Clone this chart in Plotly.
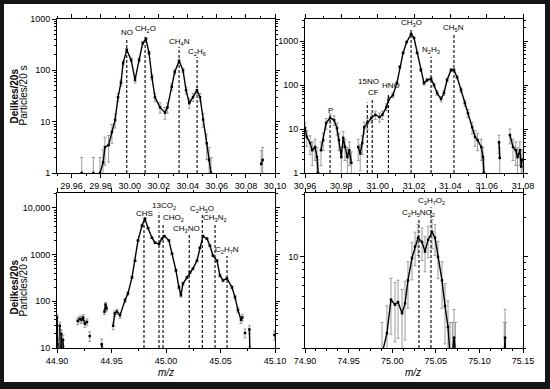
import math
import plotly.graph_objects as go

# ---------------- data (m/z, particles per 20 s) ----------------
# None breaks the trace (gaps in the measured spectrum)
tl_mz = [29.9670, None, 29.9750, None, 29.9796, 29.9817, 29.9830, 29.9855, 29.9878, 29.9900,
         29.9920, 29.9940, 29.9955, 29.9980, 30.0010, 30.0037, 30.0065, 30.0090, 30.0112,
         30.0133, 30.0153, 30.0174, 30.0209, 30.0243, 30.0260, 30.0290, 30.0310, 30.0340,
         30.0367, 30.0388, 30.0410, 30.0436, 30.0463, 30.0484, 30.0505, 30.0530, 30.0546,
         30.0560, None, 30.0905, 30.0915]
tl_cnt = [1.0, None, 1.0, None, 1.0, 1.6, 3.2, 3.5, 6.3, 10.8,
          30, 57, 139, 250, 160, 65, 160, 340, 410,
          220, 74, 30, 19, 15, 19, 48, 93, 152,
          100, 41, 23, 30, 41, 30, 11, 3.8, 1.8,
          1.0, None, 1.5, 1.8]

tr_mz = [30.9600, 30.9610, 30.9628, 30.9640, 30.9655, 30.9666, 30.9672, None,
         30.9688, 30.9700, 30.9716, 30.9738, 30.9760, 30.9776, 30.9787, 30.9800, 30.9810,
         30.9820, 30.9833, 30.9844, 30.9855, None,
         30.9893, 30.9904, 30.9915, 30.9926, 30.9943, 30.9965, 30.9987, 31.0010, 31.0026,
         31.0048, 31.0060, 31.0084, 31.0106, 31.0122, 31.0140, 31.0160, 31.0184, 31.0200,
         31.0217, 31.0238, 31.0255, 31.0272, 31.0294, 31.0310, 31.0327, 31.0349, 31.0365,
         31.0382, 31.0404, 31.0420, 31.0437, 31.0459, 31.0480, 31.0497, 31.0520, 31.0536,
         31.0550, 31.0570, 31.0580, 31.0585, None, 31.0668, 31.0672, None,
         31.0728, 31.0745, 31.0760, 31.0770, 31.0783, 31.0790, 31.0795]
tr_cnt = [10.5, 6.6, 4.8, 3.3, 3.9, 2.3, 1.0, None,
          3.3, 5.6, 13.6, 17.8, 16, 10.5, 5.6, 2.3, 6.3,
          3.9, 2.3, 3.3, 1.7, None,
          3.9, 2.8, 4.8, 11, 13.6, 17.8, 21, 18.7, 21,
          31.6, 46, 59, 110, 257, 537, 950, 1445, 1175,
          537, 219, 110, 130, 137, 100, 66, 48, 66,
          130, 219, 219, 151, 77, 39, 23, 11, 6.6,
          5.6, 3.9, 2.3, 1.0, None, 5.0, 2.2, None,
          7.3, 3.9, 3.3, 2.3, 3.3, 1.4, 2.0]

bl_mz = [44.9000, 44.9005, 44.9010, None, 44.9025, 44.9030, None, 44.9040, 44.9045, None,
         44.9055, 44.9060, None, 44.9190, 44.9210, 44.9225, 44.9240, 44.9255, 44.9275, None,
         44.9300, None, 44.9410, 44.9415, None, 44.9435, 44.9445, 44.9455, None,
         44.9515, 44.9530, 44.9550, 44.9578, 44.9624, 44.9651, 44.9688, 44.9716, 44.9743,
         44.9780, 44.9807, 44.9835, 44.9871, 44.9899, 44.9936, 44.9963, 44.9985, 45.0027,
         45.0055, 45.0091, 45.0119, 45.0137, 45.0156, 45.0192, 45.0220, 45.0247, 45.0284,
         45.0311, 45.0339, 45.0376, 45.0403, 45.0431, 45.0468, 45.0495, 45.0523, 45.0559,
         45.0605, 45.0633, 45.0660, 45.0688, 45.0700, None, 45.0725, None, 45.0765, 45.0770,
         None, 45.0995]
bl_cnt = [45, 12, 8, None, 30, 8, None, 20, 8, None,
          15, 8, None, 38, 42, 40, 45, 33, 36, None,
          18, None, 12, 8, None, 60, 85, 70, None,
          30, 55, 60, 50, 105, 148, 324, 740, 2000,
          4200, 5900, 3700, 2300, 1800, 1700, 2200, 2500, 2000,
          1050, 460, 200, 135, 240, 324, 415, 500, 740,
          1400, 2500, 2200, 1550, 955, 740, 355, 280, 310,
          200, 123, 65, 40, 45, None, 21, None, 25, 8,
          None, 19]

br_mz = [74.9883, 74.9940, 74.9986, 75.0032, 75.0067, 75.0113, 75.0147, 75.0181, 75.0227,
         75.0262, 75.0296, 75.0342, 75.0376, 75.0411, 75.0457, 75.0491, 75.0525, 75.0571,
         75.0606, 75.0640, 75.0663, None, 75.0690, 75.0709, 75.0725, None,
         75.1285, 75.1294, 75.1300]
br_cnt = [1.8, 2.6, 4.7, 4.3, 4.5, 3.7, 4.4, 6.6, 9.8,
          12, 14, 13, 11, 13.5, 15.5, 14, 10, 6.6,
          4.2, 2.9, 1.8, None, 1.8, 2.4, 1.8, None,
          1.8, 2.4, 1.8]

# peak assignments: (label, m/z of dashed line, line top, label x, label height)
tl_labels = [("NO", 29.9980, 2.63, 29.9980, 2.73),
             ("CH<sub>2</sub>O", 30.0106, 2.65, 30.0106, 2.80),
             ("CH<sub>4</sub>N", 30.0340, 2.46, 30.0340, 2.56),
             ("C<sub>2</sub>H<sub>6</sub>", 30.0464, 2.26, 30.0464, 2.36)]
tr_labels = [("P", 30.9738, 1.31, 30.9738, 1.43),
             ("15NO", 30.9943, 1.60, 30.9950, 2.09),
             ("CF", 30.9970, 1.68, 30.9975, 1.83),
             ("HNO", 31.0059, 1.77, 31.0076, 1.98),
             ("CH<sub>3</sub>O", 31.0184, 3.25, 31.0184, 3.40),
             ("N<sub>2</sub>H<sub>3</sub>", 31.0294, 2.64, 31.0294, 2.79),
             ("CH<sub>5</sub>N", 31.0420, 3.14, 31.0415, 3.29)]
bl_labels = [("CHS", 44.9798, 3.79, 44.9807, 3.89),
             ("13CO<sub>2</sub>", 44.9936, 3.90, 44.9985, 4.05),
             ("CHO<sub>2</sub>", 44.9973, 3.66, 45.0070, 3.78),
             ("CH<sub>3</sub>NO", 45.0213, 3.44, 45.0190, 3.55),
             ("C<sub>2</sub>H<sub>5</sub>O", 45.0333, 3.86, 45.0330, 3.98),
             ("CH<sub>3</sub>N<sub>2</sub>", 45.0450, 3.66, 45.0450, 3.78),
             ("C<sub>2</sub>H<sub>7</sub>N", 45.0560, 2.97, 45.0560, 3.09)]
br_labels = [("C<sub>2</sub>H<sub>5</sub>NO<sub>2</sub>", 75.0307, 1.29, 75.0307, 1.34),
             ("C<sub>3</sub>H<sub>7</sub>O<sub>2</sub>", 75.0445, 1.38, 75.0445, 1.43)]

FONT = "Liberation Sans, Arial, sans-serif"
fig = go.Figure()


def add_panel(xs, ys, xa, ya, ymin, labels):
    err = [math.sqrt(v) if v is not None else 0 for v in ys]
    fig.add_trace(go.Scatter(
        x=xs, y=ys, xaxis=xa, yaxis=ya, mode="lines+markers",
        line=dict(color="black", width=1.4),
        marker=dict(size=2.5, color="black", symbol="square"),
        error_y=dict(type="data", array=err, color="#9a9a9a", thickness=1, width=1.5),
        connectgaps=False, showlegend=False, hoverinfo="skip"))
    for text, lx, top, tx, ty in labels:
        fig.add_trace(go.Scatter(
            x=[lx, lx], y=[ymin, 10 ** top], xaxis=xa, yaxis=ya, mode="lines",
            line=dict(color="black", width=1.1, dash="3px,2px"),
            showlegend=False, hoverinfo="skip"))
        fig.add_annotation(x=tx, y=ty, xref=xa.replace("axis", ""), yref=ya.replace("axis", ""),
                           text=text, showarrow=False, xanchor="center", yanchor="middle",
                           font=dict(family=FONT, size=8, color="black"))


add_panel(tl_mz, tl_cnt, "x", "y", 1, tl_labels)
add_panel(tr_mz, tr_cnt, "x2", "y2", 1, tr_labels)
add_panel(bl_mz, bl_cnt, "x3", "y3", 10, bl_labels)
add_panel(br_mz, br_cnt, "x4", "y4", 2, br_labels)

W, H = 550, 389
ML, MR, MT, MB = 4, 5, 4, 7          # dark frame thickness
IW, IH = W - ML - MR, H - MT - MB


def dx(px):
    return (px - ML) / IW


def dy(py):
    return 1 - (py - MT) / IH


colL = [dx(57), dx(275)]
colR = [dx(305), dx(523)]
rowT = [dy(173), dy(19)]
rowB = [dy(348), dy(193)]


def minor_log(lo, hi):
    vals = []
    for d in range(lo, hi + 1):
        for k in range(2, 10):
            vals.append(k * 10 ** d)
    return vals


def xax(domain, rng, tick0, dtick, mdtick, anchor):
    return dict(domain=domain, range=rng, anchor=anchor, tick0=tick0, dtick=dtick,
                tickformat=".2f", ticks="outside", ticklen=4, tickwidth=1, tickcolor="black",
                mirror="allticks", showline=True, linecolor="black", linewidth=1,
                showgrid=False, zeroline=False, automargin=False,
                minor=dict(tick0=tick0, dtick=mdtick, ticks="outside", ticklen=2,
                           tickcolor="black", showgrid=False),
                tickfont=dict(family=FONT, size=9, color="black"))


def yax(domain, rng, tv, tt, anchor, mlo, mhi):
    return dict(domain=domain, range=rng, anchor=anchor, type="log",
                tickmode="array", tickvals=tv, ticktext=tt,
                ticks="outside", ticklen=4, tickwidth=1, tickcolor="black",
                mirror="allticks", showline=True, linecolor="black", linewidth=1,
                showgrid=False, zeroline=False, automargin=False,
                minor=dict(tickmode="array", tickvals=minor_log(mlo, mhi), ticks="outside",
                           ticklen=2, tickcolor="black", showgrid=False),
                tickfont=dict(family=FONT, size=9, color="black"))


fig.update_layout(
    width=W, height=H, margin=dict(l=ML, r=MR, t=MT, b=MB, pad=0, autoexpand=False),
    paper_bgcolor="#151515", plot_bgcolor="white", showlegend=False,
    xaxis=xax(colL, [29.95, 30.10], 29.96, 0.02, 0.01, "y"),
    yaxis=yax(rowT, [0, 3], [1, 10, 100, 1000], ["1", "10", "100", "1000"], "x", 0, 2),
    xaxis2=xax(colR, [30.96, 31.08], 30.96, 0.02, 0.01, "y2"),
    yaxis2=yax(rowT, [0, 3.5], [1, 10, 100, 1000], ["1", "10", "100", "1000"], "x2", 0, 3),
    xaxis3=xax(colL, [44.90, 45.10], 44.90, 0.05, 0.025, "y3"),
    yaxis3=yax(rowB, [1, 4.32], [10, 100, 1000, 10000], ["10", "100", "1000", "10,000"], "x3", 1, 4),
    xaxis4=xax(colR, [74.90, 75.15], 74.90, 0.05, 0.0125, "y4"),
    yaxis4=yax(rowB, [0.301, 1.49], [10], ["10"], "x4", 0, 1),
)

# white picture area inside the dark frame
fig.add_shape(type="rect", xref="paper", yref="paper", x0=0, y0=0, x1=1, y1=1,
              line=dict(width=0), fillcolor="white", layer="below")

# axis titles
for yc in (dy(96), dy(287)):
    fig.add_annotation(x=dx(13.5), y=yc, xref="paper", yref="paper", text="<b>Deilkes/20s</b>",
                       textangle=-90, showarrow=False, xanchor="center", yanchor="middle",
                       font=dict(family=FONT, size=10, color="black"))
    fig.add_annotation(x=dx(22.5), y=yc, xref="paper", yref="paper", text="Particles/20 s",
                       textangle=-90, showarrow=False, xanchor="center", yanchor="middle",
                       font=dict(family=FONT, size=10, color="black"))
for xc in (dx(166), dx(413)):
    fig.add_annotation(x=xc, y=dy(372), xref="paper", yref="paper", text="<i>m/z</i>",
                       showarrow=False, xanchor="center", yanchor="middle",
                       font=dict(family=FONT, size=10, color="black"))

fig.write_html("out.html", config={"displayModeBar": False},
               post_script="document.body.style.margin='0';"
                           "document.body.style.overflow='hidden';")
